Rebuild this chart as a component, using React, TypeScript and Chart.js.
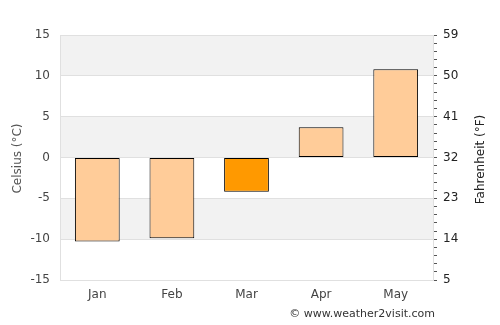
import React, { useEffect, useRef } from "react";
import { Chart, registerables } from "chart.js";

Chart.register(...registerables);

const months = ["Jan", "Feb", "Mar", "Apr", "May"];
const celsius = [-10.3, -9.9, -4.2, 3.7, 10.8];
const barColors = ["#ffcc99", "#ffcc99", "#ff9900", "#ffcc99", "#ffcc99"];
const bandEdges = [-15, -10, -5, 0, 5, 10, 15];
const bandShaded = [false, true, false, true, false, true];
const fahrenheitMin = 5;
const fahrenheitMax = 59;
const fahrenheitStep = 1.8;
const leftTitle = "Celsius (°C)";
const rightTitle = "Fahrenheit (°F)";
const credit = "© www.weather2visit.com";

const FONT = "'DejaVu Sans', sans-serif";

const bandsPlugin = {
  id: "bands",
  beforeDraw(chart: any) {
    const { ctx, chartArea } = chart;
    const y = chart.scales.y;
    ctx.save();
    for (let i = 0; i < bandShaded.length; i++) {
      if (!bandShaded[i]) continue;
      const top = y.getPixelForValue(bandEdges[i + 1]);
      const bottom = y.getPixelForValue(bandEdges[i]);
      ctx.fillStyle = "#f2f2f2";
      ctx.fillRect(chartArea.left, top, chartArea.right - chartArea.left, bottom - top);
    }
    ctx.restore();
  },
};

const textPlugin = {
  id: "texts",
  afterDraw(chart: any) {
    const { ctx, chartArea } = chart;
    const midY = (chartArea.top + chartArea.bottom) / 2;
    ctx.save();
    ctx.font = `11px ${FONT}`;
    ctx.fillStyle = "#333";
    ctx.textAlign = "right";
    ctx.textBaseline = "alphabetic";
    ctx.fillText(credit, chartArea.right + 2, 317);

    ctx.font = `12px ${FONT}`;
    ctx.textAlign = "center";
    ctx.textBaseline = "middle";
    ctx.fillStyle = "#555";
    ctx.save();
    ctx.translate(18, midY + 1);
    ctx.rotate(-Math.PI / 2);
    ctx.fillText(leftTitle, 0, 0);
    ctx.restore();
    ctx.fillStyle = "#222";
    ctx.save();
    ctx.translate(481, midY + 2);
    ctx.rotate(-Math.PI / 2);
    ctx.fillText(rightTitle, 0, 0);
    ctx.restore();
    ctx.restore();
  },
};

export default function App() {
  const ref = useRef<HTMLCanvasElement>(null);
  useEffect(() => {
    if (!ref.current) return;
    const chart = new Chart(ref.current, {
      type: "bar",
      data: {
        labels: months,
        datasets: [
          {
            data: celsius,
            backgroundColor: barColors,
            borderColor: "#000",
            borderWidth: 1,
            borderSkipped: false,
            barPercentage: 0.6,
            categoryPercentage: 1,
            yAxisID: "y",
          },
        ],
      },
      options: {
        responsive: false,
        animation: false,
        layout: { padding: { top: 35, left: 0, right: 0, bottom: 0 } },
        plugins: { legend: { display: false }, tooltip: { enabled: false } },
        scales: {
          x: {
            grid: { display: false, drawTicks: false },
            border: { display: false },
            ticks: { color: "#444", font: { family: FONT, size: 12 }, padding: 8 },
            afterFit(scale: any) {
              scale.height = 45;
            },
          },
          y: {
            position: "left",
            min: -15,
            max: 15,
            ticks: { stepSize: 5, color: "#444", font: { family: FONT, size: 12 }, padding: 10 },
            grid: { color: "#e0e0e0", drawTicks: false },
            border: { color: "#e0e0e0" },
            afterFit(scale: any) {
              scale.width = 60;
            },
          },
          y2: {
            position: "right",
            min: fahrenheitMin,
            max: fahrenheitMax,
            afterBuildTicks(scale: any) {
              const ticks = [];
              const n = Math.round((fahrenheitMax - fahrenheitMin) / fahrenheitStep);
              for (let i = 0; i <= n; i++) ticks.push({ value: fahrenheitMin + fahrenheitStep * i });
              scale.ticks = ticks;
            },
            ticks: {
              autoSkip: false,
              color: "#222",
              font: { family: FONT, size: 12 },
              padding: 6,
              callback: (v: any, i: number) => (i % 5 === 0 ? String(Math.round(v)) : ""),
            },
            grid: { drawOnChartArea: false, tickLength: 4, tickColor: "#555", color: "#555" },
            border: { color: "#e0e0e0" },
            afterFit(scale: any) {
              scale.width = 67;
            },
          },
        },
      },
      plugins: [bandsPlugin, textPlugin],
    });
    return () => chart.destroy();
  }, []);
  return (
    <div style={{ position: "fixed", left: 0, top: 0, width: 500, height: 325, background: "#fff" }}>
      <canvas ref={ref} width={500} height={325} />
    </div>
  );
}
